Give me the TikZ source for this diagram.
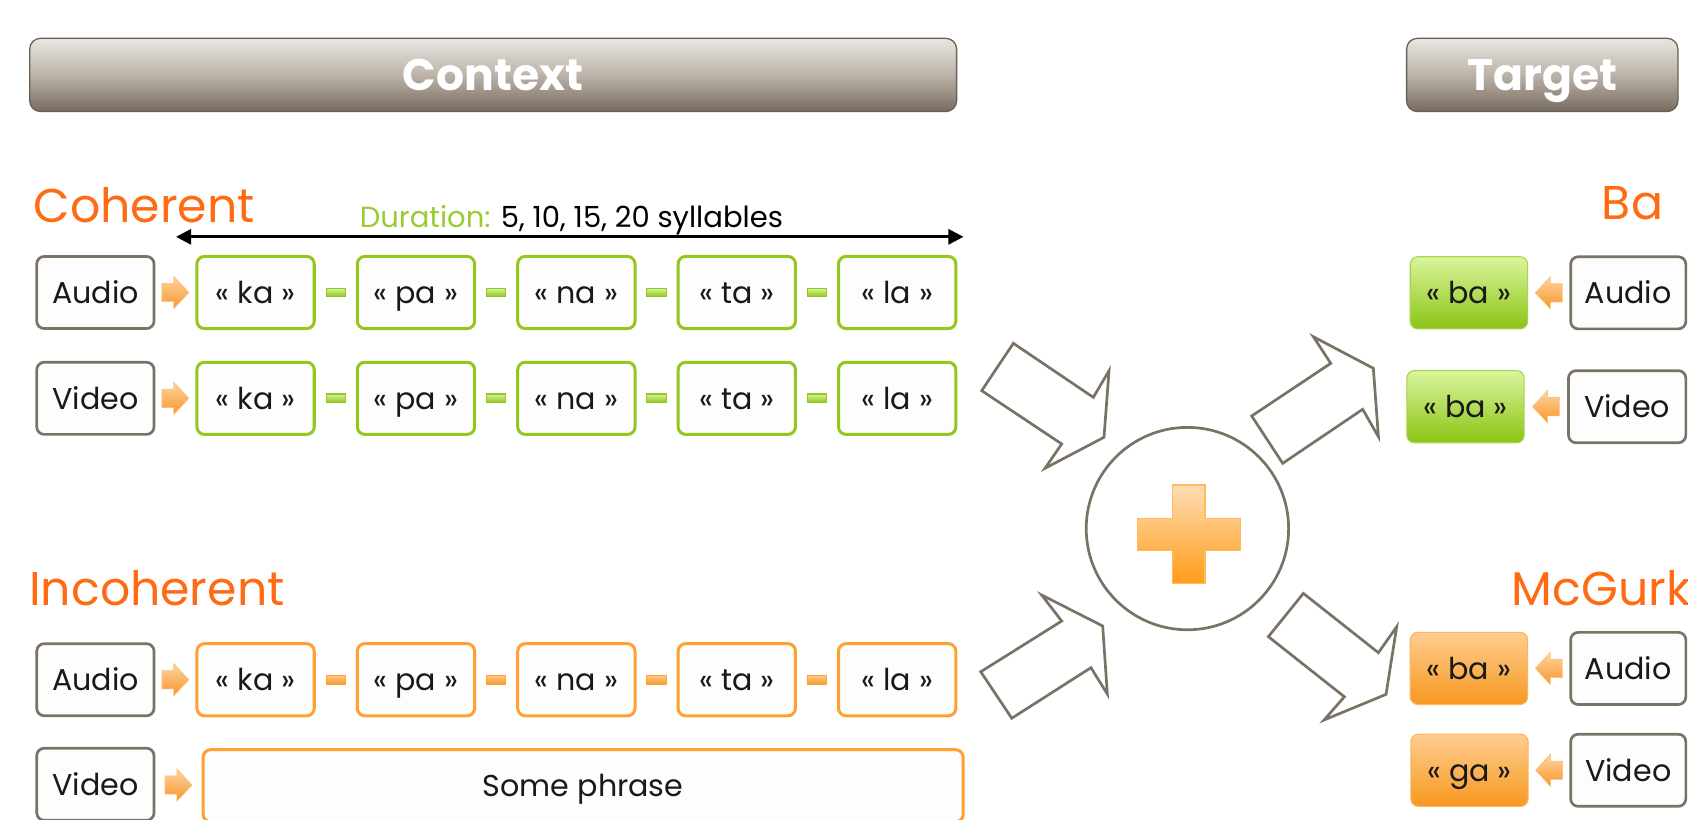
\documentclass[tikz,border=0pt]{standalone}
\usepackage{fontspec}
\setmainfont{Poppins}
\usetikzlibrary{calc,arrows.meta}
\definecolor{orangeT}{HTML}{FF6A13}
\definecolor{greenB}{HTML}{92C81E}
\definecolor{orangeB}{HTML}{FFA033}
\definecolor{grayB}{HTML}{7A7265}
\definecolor{durgreen}{HTML}{99CC33}
\definecolor{boxfill}{HTML}{FDFDFD}
\definecolor{barTop}{HTML}{E9E6E2}
\definecolor{barMid}{HTML}{BCB3A8}
\definecolor{barBot}{HTML}{766B5E}
\definecolor{arrL}{HTML}{FFD4A0}
\definecolor{arrD}{HTML}{F7962A}
\definecolor{gfTop}{HTML}{DAF59C}
\definecolor{gfBot}{HTML}{8BC415}
\definecolor{ofTop}{HTML}{FFCD90}
\definecolor{ofBot}{HTML}{F7981F}
\definecolor{plTop}{HTML}{FFDDB5}
\definecolor{plBot}{HTML}{FF9D1A}
\tikzset{
  txt/.style={font=\fontsize{28}{30}\selectfont, text=black!90, text height=22pt, text depth=2pt},
  gbox/.style={txt, draw=grayB, line width=2.5pt, rounded corners=7pt, fill=boxfill,
    minimum width=109pt, minimum height=67pt, inner sep=0pt},
  sylG/.style={gbox, draw=greenB, line width=2.8pt},
  sylO/.style={gbox, draw=orangeB, line width=2.8pt},
  gfill/.style={txt, draw=greenB!80!white, line width=1pt, rounded corners=7pt,
    top color=gfTop, bottom color=gfBot, minimum width=109pt, minimum height=67pt, inner sep=0pt},
  ofill/.style={txt, draw=orangeB!80!white, line width=1pt, rounded corners=7pt,
    top color=ofTop, bottom color=ofBot, minimum width=109pt, minimum height=67pt, inner sep=0pt},
  bar/.style={draw=barBot!90!black, line width=1.2pt, rounded corners=10pt,
    top color=barTop, bottom color=barBot, middle color=barMid,
    minimum height=68pt, inner sep=0pt, text=white, text height=32pt, text depth=4pt,
    font=\fontsize{41}{43}\selectfont\bfseries},
  sec/.style={font=\fontsize{44}{46}\selectfont, text=orangeT, inner sep=0pt},
  hollow/.style={draw=grayB, line width=2.5pt, fill=white, line join=miter},
  rarr/.pic={\path[top color=arrL, bottom color=arrD, draw=arrD!60!white, line width=0.6pt]
    (-12.5,-8.5) -- (-1.5,-8.5) -- (-1.5,-15) -- (12.5,0) -- (-1.5,15) -- (-1.5,8.5) -- (-12.5,8.5) -- cycle;},
  larr/.pic={\path[top color=arrL, bottom color=arrD, draw=arrD!60!white, line width=0.6pt]
    (12.5,-8.5) -- (1.5,-8.5) -- (1.5,-15) -- (-12.5,0) -- (1.5,15) -- (1.5,8.5) -- (12.5,8.5) -- cycle;},
  gdash/.pic={\path[top color=gfTop, bottom color=gfBot, draw=greenB, line width=1pt]
    (-9,-4) rectangle (9,4);},
  odash/.pic={\path[top color=ofTop, bottom color=ofBot, draw=orangeB, line width=1pt]
    (-9,-4) rectangle (9,4);},
}
\begin{document}
\begin{tikzpicture}[x=1pt,y=-1pt]
\path[use as bounding box] (0,0) rectangle (1568,761);
\clip (0,0) rectangle (1568,761);

% header bars
\node[bar, minimum width=861pt, anchor=north west] (ctx) at (27,35) {Context};
\node[bar, minimum width=252pt, anchor=north west] (tgt) at (1306,35) {Target};

% section labels
\node[sec, anchor=base west] (coh) at (31,207) {Coherent};
\node[sec, anchor=base west] (incoh) at (27,562) {Incoherent};
\node[sec, anchor=base east] (ba) at (1545,204) {Ba};
\node[sec, anchor=base west] (mcg) at (1404,562) {McGurk};

% duration arrow
\coordinate (dL) at (163.5,220);
\coordinate (dR) at (895,220);
\draw[line width=2.5pt, {Triangle[length=14pt,width=14pt]}-{Triangle[length=14pt,width=14pt]}] (dL) -- (dR);
\node[font=\fontsize{27}{29}\selectfont, anchor=base west, inner sep=0pt] (dur) at (334,211)
  {\textcolor{durgreen}{Duration:} 5, 10, 15, 20 syllables};

% left modality boxes
\node[gbox] (cA) at (88.6,271.7) {Audio};
\node[gbox] (cV) at (88.6,370) {Video};
\node[gbox] (iA) at (88.6,631.4) {Audio};
\node[gbox] (iV) at (88.6,728.5) {Video};

% syllables
\foreach \s [count=\i] in {ka,pa,na,ta,la} {
  \node[sylG] (cA\i) at ({237.4+149*(\i-1)},271.7) {« \s{} »};
  \node[sylG] (cV\i) at ({237.4+149*(\i-1)},370) {« \s{} »};
  \node[sylO] (iA\i) at ({237.4+149*(\i-1)},631.4) {« \s{} »};
}
\node[sylO, minimum width=706pt, anchor=north west] (phrase) at (187.3,695) {Some phrase};

% small arrows
\pic at ($(cA.east)!0.5!(cA1.west)$) {rarr};
\pic at ($(cV.east)!0.5!(cV1.west)$) {rarr};
\pic at ($(iA.east)!0.5!(iA1.west)$) {rarr};
\pic at ($(iV.east)!0.5!(phrase.west)$) {rarr};

% dashes
\foreach \i/\j in {1/2,2/3,3/4,4/5} {
  \pic at ($(cA\i.east)!0.5!(cA\j.west)$) {gdash};
  \pic at ($(cV\i.east)!0.5!(cV\j.west)$) {gdash};
  \pic at ($(iA\i.east)!0.5!(iA\j.west)$) {odash};
}

% hollow arrows
\draw[hollow] (941.3,318.9) -- (1015.6,369.1) -- (1030.2,344.3) -- (1025.5,406.2) -- (970.7,435.0) -- (986.2,412.4) -- (911.9,362.9) -- cycle;
\draw[hollow] (967.6,552.7) -- (1024.3,581.5) -- (1028.6,644.7) -- (1013.4,620.2) -- (939.8,667.2) -- (911.0,624.0) -- (986.2,576.9) -- cycle;
\draw[hollow] (1220,312.8) -- (1275.7,342.1) -- (1280.4,405.7) -- (1265.8,380.2) -- (1191.5,430.4) -- (1162.7,386.4) -- (1236.1,337.5) -- cycle;
\draw[hollow] (1210.7,551.2) -- (1280.4,606.3) -- (1297.4,582.1) -- (1287.5,645) -- (1229.9,668.8) -- (1248.8,647.2) -- (1178.2,591.4) -- cycle;

% plus circle
\node[circle, draw=grayB, line width=2.5pt, minimum size=188pt, inner sep=0pt] (plus) at (1103,491) {};
\path[top color=plTop, bottom color=plBot, draw=plBot!70!white, line width=1pt]
  (1089.3,450.5) -- (1119.3,450.5) -- (1119.3,481.5) -- (1151.9,481.5) -- (1151.9,511) --
  (1119.3,511) -- (1119.3,541.9) -- (1089.3,541.9) -- (1089.3,511) -- (1056.8,511) --
  (1056.8,481.5) -- (1089.3,481.5) -- cycle;

% target side
\node[gfill] (tb1) at (1364.5,272) {« ba »};
\node[gbox, minimum width=107pt] (tA1) at (1512.5,272) {Audio};
\node[gfill] (tb2) at (1361.3,377.8) {« ba »};
\node[gbox, minimum width=109pt] (tV1) at (1511.5,377.8) {Video};
\node[ofill] (tb3) at (1364.5,620.9) {« ba »};
\node[gbox, minimum width=107pt] (tA2) at (1512.5,620.9) {Audio};
\node[ofill] (tb4) at (1365,715.5) {« ga »};
\node[gbox, minimum width=107pt] (tV2) at (1512.5,715.5) {Video};
\pic at ($(tb1.east)!0.5!(tA1.west)$) {larr};
\pic at ($(tb2.east)!0.5!(tV1.west)$) {larr};
\pic at ($(tb3.east)!0.5!(tA2.west)$) {larr};
\pic at ($(tb4.east)!0.5!(tV2.west)$) {larr};
\end{tikzpicture}
\end{document}
